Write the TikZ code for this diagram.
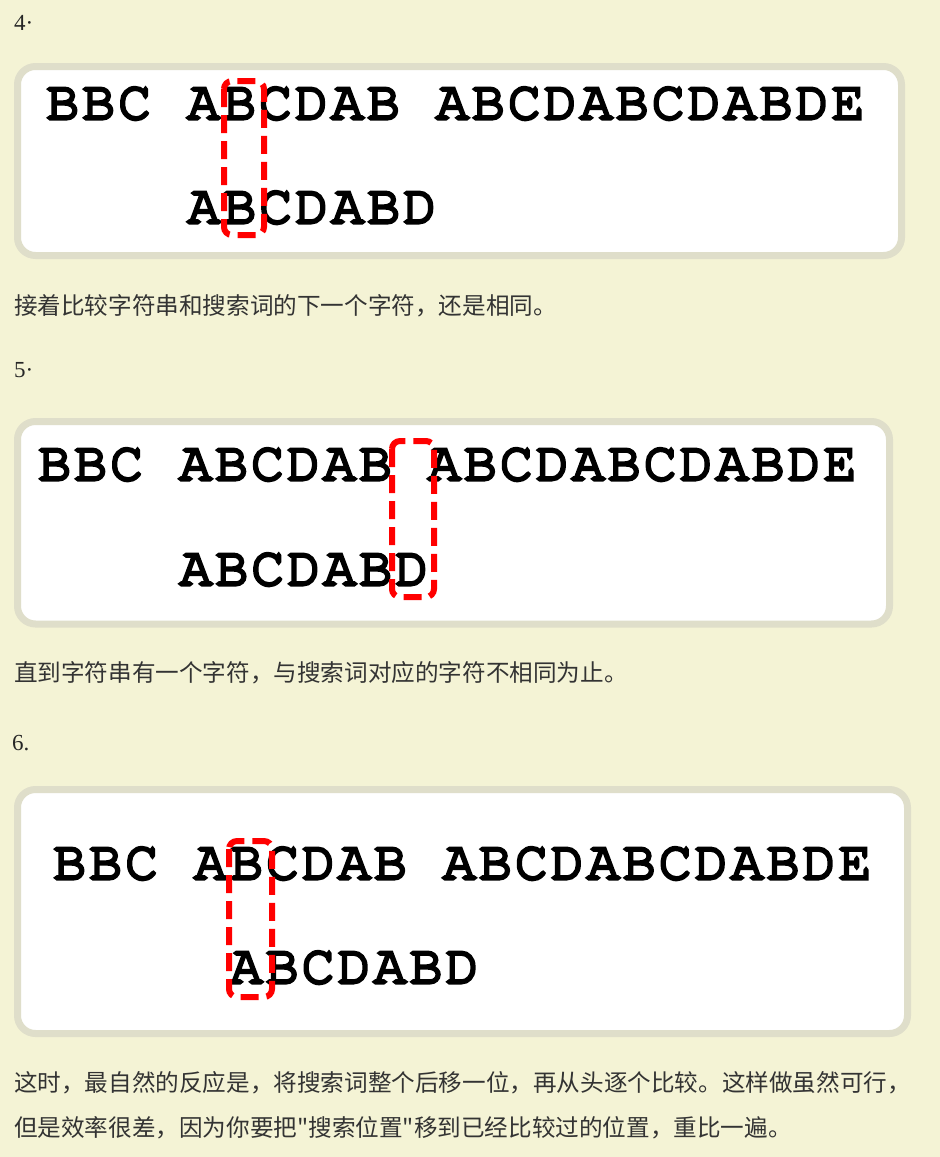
\documentclass[tikz,border=0pt]{standalone}
\usepackage{fontspec}
\setmainfont{Liberation Serif}
\newfontfamily\cjk{Noto Sans CJK SC}
\newfontfamily\monob{texgyrecursor-regular}[Extension=.otf,FakeBold=5.5,LetterSpace=5.4]
\definecolor{bgc}{RGB}{244,243,213}
\definecolor{bordc}{RGB}{223,222,202}
\definecolor{txtc}{RGB}{51,51,51}
\definecolor{hl}{RGB}{255,0,0}
\tikzset{
  panel/.style={fill=white,draw=bordc,line width=7pt,rounded corners=18pt},
  mono/.style={anchor=base west,inner sep=0pt,font=\monob\fontsize{55}{60}\selectfont},
  para/.style={anchor=base west,inner sep=0pt,text=txtc,font=\cjk\fontsize{23.6}{30}\selectfont},
  stepnum/.style={anchor=base west,inner sep=0pt,text=black!85,font=\fontsize{23}{27}\selectfont},
  marker/.style={draw=hl,line width=6pt,dash pattern=on 18pt off 8pt,rounded corners=8pt}
}
\begin{document}
\begin{tikzpicture}[x=1pt,y=-1pt]
\useasboundingbox (0,0) rectangle (940,1157);
\fill[bgc] (0,0) rectangle (940,1157);

% step 4
\node[stepnum] (n4) at (14,30) {4·};
\draw[panel] (17.5,66.5) rectangle (901.5,255.5);
\node[mono] (s4) at (46,119) {BBC ABCDAB ABCDABCDABDE};
\node[mono] (p4) at (187.2,223) {ABCDABD};
\draw[marker] (224,81) rectangle (264,235);
\node[para] (t4) at (14,314) {接着比较字符串和搜索词的下一个字符，还是相同。};

% step 5
\node[stepnum] (n5) at (14,377) {5·};
\draw[panel] (17.5,421.5) rectangle (889.5,624);
\node[mono] (s5) at (38,480) {BBC ABCDAB ABCDABCDABDE};
\node[mono] (p5) at (179.2,585) {ABCDABD};
\draw[marker] (392,441) rectangle (434,597);
\node[para] (t5) at (14,681) {直到字符串有一个字符，与搜索词对应的字符不相同为止。};

% step 6
\node[stepnum] (n6) at (12,750) {6.};
\draw[panel] (17.5,789.5) rectangle (907.5,1033.5);
\node[mono] (s6) at (53,879) {BBC ABCDAB ABCDABCDABDE};
\node[mono] (p6) at (229.5,983) {ABCDABD};
\draw[marker] (229,841) rectangle (272,997);
\node[para] (t6a) at (14,1091) {这时，最自然的反应是，将搜索词整个后移一位，再从头逐个比较。这样做虽然可行，};
\node[para] (t6b) at (14,1136) {但是效率很差，因为你要把"搜索位置"移到已经比较过的位置，重比一遍。};
\end{tikzpicture}
\end{document}
